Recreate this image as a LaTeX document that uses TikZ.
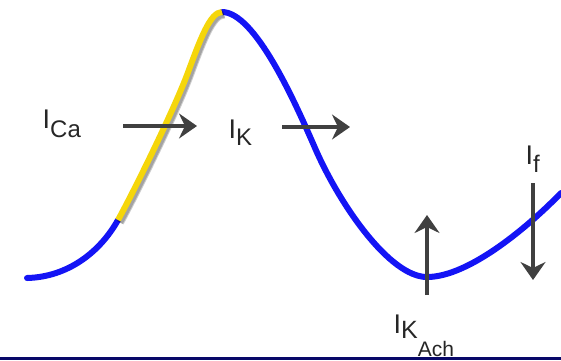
\documentclass[tikz,border=0pt]{standalone}
\usepackage{fontspec}
\setmainfont{Liberation Sans}
\usetikzlibrary{arrows.meta}

\definecolor{wavblue}{RGB}{20,20,245}
\definecolor{wavyellow}{RGB}{245,214,10}
\definecolor{arrgray}{RGB}{64,64,64}
\definecolor{barnavy}{RGB}{8,8,104}

% action potential trace, in pixel coordinates
\newcommand{\apfoot}{(27,278) .. controls (68,277) and (100,252) .. (118,220)}
\newcommand{\applateau}{(118,220) .. controls (133,193) and (172,114) .. (187,75)
  .. controls (200,40) and (210,12) .. (222,12)}
\newcommand{\aprest}{(222,12) .. controls (255,12) and (295,102) .. (315,148)
  .. controls (340,205.5) and (390,277) .. (427,277)
  .. controls (470,277) and (531,224) .. (561,193)}

\begin{document}
\begin{tikzpicture}[
  x=1pt, y=-1pt,
  wave/.style={line width=6pt, line cap=round, draw=wavblue},
  plateau/.style={wave, draw=wavyellow, line cap=butt},
  shade/.style={wave, draw=black, opacity=0.2, line cap=butt},
  current/.style={line width=4pt, draw=arrgray,
    -{Stealth[length=18pt, width=25pt, inset=6pt]}},
  lbl/.style={inner sep=0pt, anchor=base west, text=black!85,
    font=\fontsize{27}{27}\selectfont},
]
\useasboundingbox (0,0) rectangle (561,360);

% bottom bar
\fill[barnavy] (0,357) rectangle (561,360);

% trace, with the calcium plateau on top
\draw[wave] \apfoot;
\draw[wave] \aprest;
\begin{scope}[shift={(2,2.5)}]
  \draw[shade, line width=8pt] \applateau;
  \draw[shade] \applateau;
\end{scope}
\draw[plateau] \applateau;

% current arrows
\coordinate (ca-s) at (123,126);
\coordinate (ca-e) at (197,126);
\coordinate (k-s) at (282,127);
\coordinate (k-e) at (350,127);
\coordinate (ach-s) at (427,295);
\coordinate (ach-e) at (427,215);
\coordinate (f-s) at (533,183);
\coordinate (f-e) at (533,280);
\draw[current] (ca-s) -- (ca-e);
\draw[current] (k-s) -- (k-e);
\draw[current] (ach-s) -- (ach-e);
\draw[current] (f-s) -- (f-e);

% labels
\node[lbl] (ica) at (42.5,128)
  {I\raisebox{-9pt}{\fontsize{24}{24}\selectfont Ca}};
\node[lbl] (ik) at (228.5,138)
  {I\raisebox{-7.5pt}{\fontsize{24}{24}\selectfont K}};
\node[lbl] (ikach) at (393.5,333)
  {I\raisebox{-5pt}{\fontsize{25}{25}\selectfont K\raisebox{-18pt}{\fontsize{21}{21}\selectfont Ach}}};
\node[lbl] (if) at (525.5,164)
  {I\raisebox{-8pt}{\fontsize{24}{24}\selectfont f}};

\end{tikzpicture}
\end{document}
